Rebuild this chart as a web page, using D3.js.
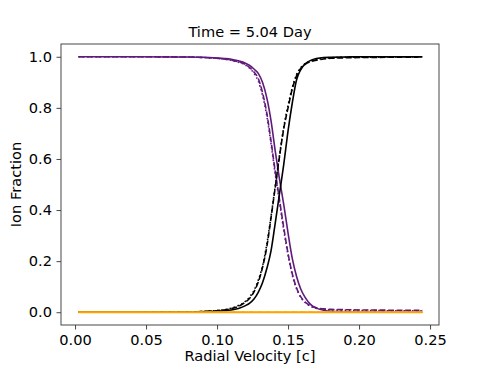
<!DOCTYPE html>
<html>
<head>
<meta charset="utf-8">
<script src="https://cdn.jsdelivr.net/npm/d3@7"></script>
<style>
  html, body { margin: 0; padding: 0; background: #fff; }
  svg { display: block; }
  text { font-family: "DejaVu Sans", sans-serif; fill: #000; }
</style>
</head>
<body>
<svg id="chart" width="488" height="366"></svg>
<script>
// ---- data ----
const velocity = [0.0024, 0.04, 0.08, 0.09, 0.10, 0.105, 0.11, 0.115, 0.12, 0.123, 0.126, 0.129, 0.132, 0.135, 0.138, 0.141, 0.144, 0.147, 0.15, 0.153, 0.156, 0.159, 0.162, 0.166, 0.17, 0.175, 0.18, 0.19, 0.2, 0.22, 0.2446];

const blackSolid  = [0, 0, 0.001, 0.002, 0.004, 0.006, 0.009, 0.015, 0.026, 0.036, 0.052, 0.078, 0.115, 0.17, 0.24, 0.35, 0.465, 0.58, 0.71, 0.82, 0.91, 0.95, 0.972, 0.986, 0.993, 0.997, 0.998, 0.999, 1.0, 1.0, 1.0];
const blackDashed = [0, 0, 0.001, 0.003, 0.006, 0.009, 0.014, 0.023, 0.04, 0.055, 0.08, 0.118, 0.175, 0.255, 0.37, 0.49, 0.61, 0.72, 0.8, 0.875, 0.925, 0.955, 0.97, 0.981, 0.987, 0.991, 0.994, 0.996, 0.997, 0.998, 0.999];
const blackDotted = [0, 0, 0.001, 0.003, 0.007, 0.01, 0.016, 0.026, 0.043, 0.06, 0.085, 0.125, 0.18, 0.265, 0.375, 0.495, 0.615, 0.725, 0.81, 0.88, 0.93, 0.958, 0.973, 0.984, 0.99, 0.994, 0.996, 0.998, 0.998, 0.999, 0.999];

const purpleSolid  = [1.0, 1.0, 0.999, 0.998, 0.995, 0.993, 0.99, 0.984, 0.975, 0.966, 0.952, 0.935, 0.9, 0.84, 0.75, 0.63, 0.52, 0.42, 0.31, 0.21, 0.14, 0.09, 0.058, 0.03, 0.016, 0.008, 0.004, 0.002, 0.001, 0.0, 0.0];
const purpleDashed = [1.0, 1.0, 0.999, 0.997, 0.994, 0.991, 0.987, 0.98, 0.97, 0.958, 0.94, 0.915, 0.86, 0.78, 0.67, 0.55, 0.44, 0.33, 0.23, 0.15, 0.095, 0.06, 0.04, 0.025, 0.017, 0.013, 0.011, 0.01, 0.009, 0.008, 0.007];
const purpleDotted = [1.0, 1.0, 0.999, 0.997, 0.994, 0.991, 0.986, 0.979, 0.968, 0.955, 0.935, 0.905, 0.85, 0.77, 0.66, 0.54, 0.43, 0.32, 0.225, 0.145, 0.092, 0.058, 0.038, 0.023, 0.015, 0.011, 0.009, 0.008, 0.007, 0.006, 0.006];

const orangeSolid  = [0, 0, 0, 0, 0, 0, 0, 0, 0, 0, 0, 0, 0, 0, 0, 0, 0, 0, 0, 0, 0, 0, 0, 0, 0, 0, 0, 0, 0, 0, 0];
const orangeDashed = [0, 0, 0, 0, 0, 0, 0, 0, 0, 0, 0, 0, 0, 0, 0, 0, 0, 0, 0, 0, 0, 0, 0, 0, 0, 0, 0, 0, 0, 0, 0];
const orangeDotted = [0, 0, 0, 0, 0, 0, 0, 0, 0, 0, 0, 0, 0, 0, 0, 0, 0, 0, 0, 0, 0, 0, 0, 0, 0, 0, 0, 0, 0, 0, 0];

const xTicks = [0.00, 0.05, 0.10, 0.15, 0.20, 0.25];
const yTicks = [0.0, 0.2, 0.4, 0.6, 0.8, 1.0];
const titleText = "Time = 5.04 Day";
const xLabel = "Radial Velocity [c]";
const yLabel = "Ion Fraction";

// ---- layout ----
const mLeft = 61, mRight = 439, mTop = 44, mBottom = 325;
const PURPLE = "#5f1a7c", BLACK = "#000000", ORANGE = "#ffa500";
const LW = 1.6;
const dashPat = "5.9,2.6", dotPat = "1.6,2.6";

const svg = d3.select("#chart");
const x = d3.scaleLinear().domain([-0.0099, 0.2563]).range([mLeft, mRight]);
const y = d3.scaleLinear().domain([-0.05, 1.05]).range([mBottom, mTop]);

const series = [
  { v: purpleSolid,  c: PURPLE, d: null,    w: LW },
  { v: purpleDashed, c: PURPLE, d: dashPat, w: LW },
  { v: purpleDotted, c: PURPLE, d: dotPat,  w: LW },
  { v: blackSolid,   c: BLACK,  d: null,    w: LW },
  { v: blackDashed,  c: BLACK,  d: dashPat, w: LW },
  { v: blackDotted,  c: BLACK,  d: dotPat,  w: LW },
  { v: orangeDashed, c: ORANGE, d: dashPat, w: LW },
  { v: orangeDotted, c: ORANGE, d: dotPat,  w: LW },
  { v: orangeSolid,  c: ORANGE, d: null,    w: 2.1 }
];

const line = d3.line()
  .x((d, i) => x(velocity[i]))
  .y(d => y(d))
  .curve(d3.curveMonotoneX);

svg.append("defs").append("clipPath").attr("id", "clip")
  .append("rect").attr("x", mLeft).attr("y", mTop).attr("width", mRight - mLeft).attr("height", mBottom - mTop);

const g = svg.append("g").attr("clip-path", "url(#clip)");
series.forEach(s => {
  g.append("path")
    .datum(s.v)
    .attr("d", line)
    .attr("fill", "none")
    .attr("stroke", s.c)
    .attr("stroke-width", s.w)
    .attr("stroke-dasharray", s.d)
    .attr("stroke-linejoin", "round");
});

// axes
const fs = 14.6;
const xAxis = d3.axisBottom(x).tickValues(xTicks).tickFormat(d3.format(".2f")).tickSize(4.5).tickPadding(5);
const yAxis = d3.axisLeft(y).tickValues(yTicks).tickFormat(d3.format(".1f")).tickSize(4.5).tickPadding(4.5);

const gx = svg.append("g").attr("transform", `translate(0,${mBottom})`).call(xAxis);
const gy = svg.append("g").attr("transform", `translate(${mLeft},0)`).call(yAxis);
[gx, gy].forEach(ax => {
  ax.select(".domain").remove();
  ax.selectAll(".tick line").attr("stroke", "#333").attr("stroke-width", 0.9);
  ax.selectAll(".tick text").attr("font-size", fs).attr("font-family", "DejaVu Sans").attr("fill", "#000");
});

// frame
svg.append("rect")
  .attr("x", mLeft).attr("y", mTop)
  .attr("width", mRight - mLeft).attr("height", mBottom - mTop)
  .attr("fill", "none").attr("stroke", "#333").attr("stroke-width", 0.9);

// title & labels
svg.append("text").attr("x", (mLeft + mRight) / 2).attr("y", 37)
  .attr("text-anchor", "middle").attr("font-size", fs).text(titleText);
svg.append("text").attr("x", (mLeft + mRight) / 2).attr("y", 361)
  .attr("text-anchor", "middle").attr("font-size", fs).text(xLabel);
svg.append("text").attr("transform", `translate(21,${(mTop + mBottom) / 2}) rotate(-90)`)
  .attr("text-anchor", "middle").attr("font-size", fs).text(yLabel);
</script>
</body>
</html>
